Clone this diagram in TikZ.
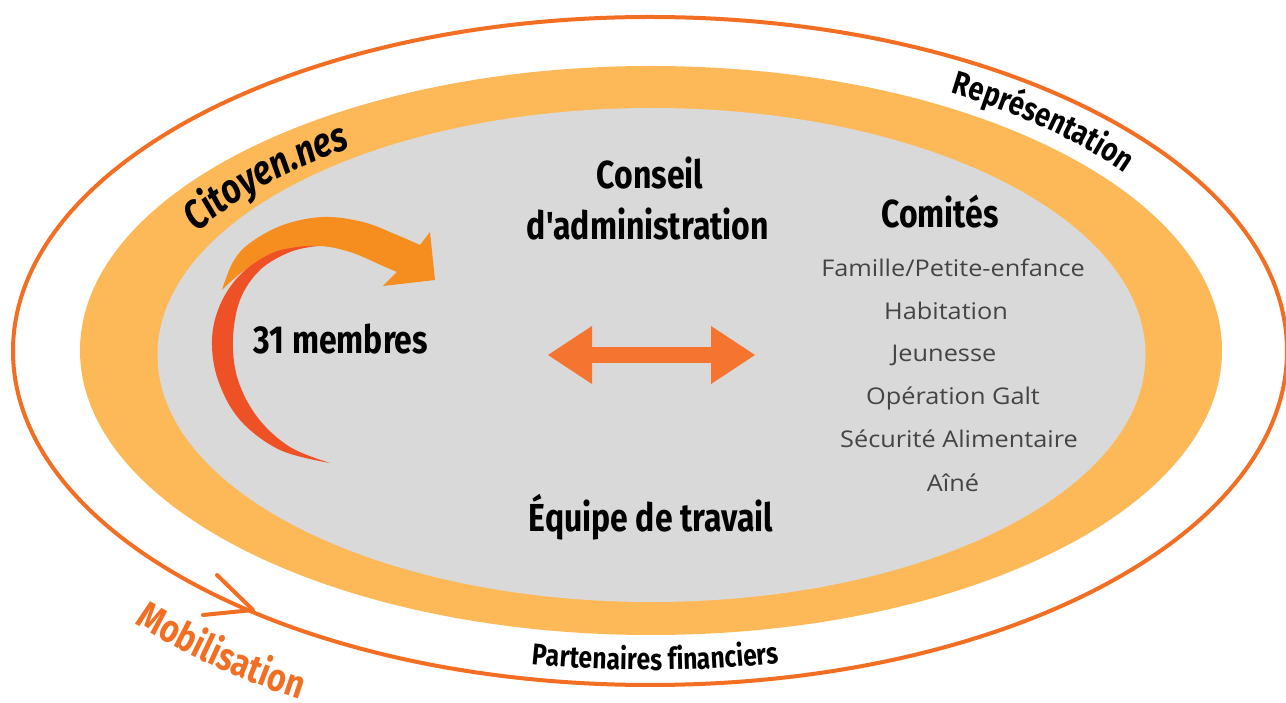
\documentclass[tikz,border=0pt]{standalone}
\usepackage{fontspec}
\setmainfont{Open Sans}
\newfontfamily\hd[FakeStretch=0.82]{Fira Sans}
\newfontfamily\lst[FakeStretch=1.1]{Open Sans}
\usetikzlibrary{decorations.text,arrows.meta}
\definecolor{ringline}{HTML}{F26E22}
\definecolor{bandfill}{HTML}{FDB957}
\definecolor{corefill}{HTML}{D9D9D9}
\definecolor{dblorange}{HTML}{F47430}
\definecolor{arroworange}{HTML}{F68D1F}
\definecolor{arrowred}{HTML}{EE5125}
\definecolor{listgray}{HTML}{444444}
\tikzset{
  headtext/.style={font=\hd\bfseries\fontsize{39}{39}\selectfont, inner sep=0pt, anchor=base, text=black},
  listtext/.style={font=\lst\fontsize{23}{23}\selectfont, inner sep=0pt, anchor=base, text=listgray},
  dblarrow/.style={dblorange, line width=16pt,
    {Triangle[length=44pt,width=58pt,line width=0pt]}-{Triangle[length=44pt,width=58pt,line width=0pt]}},
  ringstroke/.style={ringline, line width=4pt, line cap=round, line join=round}
}
\begin{document}
\begin{tikzpicture}[x=1pt,y=1pt]
\useasboundingbox (0,0) rectangle (1286,702);
\fill[white] (0,0) rectangle (1286,702);
% rings
\draw[ringstroke] (650,351) ellipse [x radius=637, y radius=334];
\fill[bandfill] (651,351.5) ellipse [x radius=571, y radius=284.5];
\fill[corefill] (651.5,347) ellipse [x radius=494, y radius=247];
% mobilisation chevron
\coordinate (chevA) at (217,127);
\coordinate (chevT) at (253,92);
\coordinate (chevB) at (203,87);
\draw[ringstroke] (chevA) -- (chevT) -- (chevB);
% curved texts
\path[decorate, decoration={text along path, text align=center,
  text={|\hd\bfseries\fontsize{33}{33}\selectfont|Représentation}}]
  (650,351) ++(62:590 and 300) arc[start angle=62, end angle=33, x radius=590, y radius=300];
\path[decorate, decoration={text along path, text align=center,
  text={|\hd\bfseries\itshape\fontsize{41}{41}\selectfont|Citoyen.nes}}]
  (650,344) ++(160:518 and 258) arc[start angle=160, end angle=119, x radius=518, y radius=258];
\path[decorate, decoration={text along path, text align=center,
  text={|\hd\bfseries\fontsize{39}{39}\selectfont\color{ringline}|Mobilisation}}]
  (650,351) ++(213:702 and 402) arc[start angle=213, end angle=248, x radius=702, y radius=402];
\path[decorate, decoration={text along path, text align=center,
  text={|\hd\bfseries\fontsize{30}{30}\selectfont|Partenaires financiers}}]
  (650,351) ++(254:620 and 319) arc[start angle=254, end angle=287, x radius=620, y radius=319];
% curved arrow (orange band then red crescent)
\fill[arroworange]
  plot[smooth, tension=0.6] coordinates {(222,412) (233,440) (250,459) (283,477) (323,485) (363,480) (397,467) (420,457)}
  -- (430,470) -- (435,422) -- (383,416) --
  plot[smooth, tension=0.6] coordinates {(397,430) (383,436) (350,450) (317,456) (280,450) (245,432) (222,412)} -- cycle;
\fill[arrowred]
  plot[smooth, tension=0.6] coordinates {(317,456) (297,455) (270,448) (240,427) (220,397) (212,362) (218,322) (240,282) (280,252) (330,239)}
  --
  plot[smooth, tension=0.6] coordinates {(330,239) (290,255) (258,284) (238,322) (233,362) (240,402) (260,432) (290,450) (317,456)} -- cycle;
% main texts
\node[headtext] (conseil) at (650,513) {Conseil};
\node[headtext] (admin) at (648,462) {d'administration};
\node[headtext] (membres) at (341,348) {31 membres};
\node[headtext] (equipe) at (651,170) {Équipe de travail};
\node[headtext] (comites) at (940,474) {Comités};
\node[listtext] (famille) at (953,425) {Famille/Petite-enfance};
\node[listtext] (habitation) at (946,382) {Habitation};
\node[listtext] (jeunesse) at (944,340) {Jeunesse};
\node[listtext] (galt) at (953,297) {Opération Galt};
\node[listtext] (securite) at (959,254) {Sécurité Alimentaire};
\node[listtext] (aine) at (953,210) {Aîné};
% double arrow
\coordinate (dblL) at (548,347);
\coordinate (dblR) at (755,347);
\draw[dblarrow] (dblL) -- (dblR);
\end{tikzpicture}
\end{document}
